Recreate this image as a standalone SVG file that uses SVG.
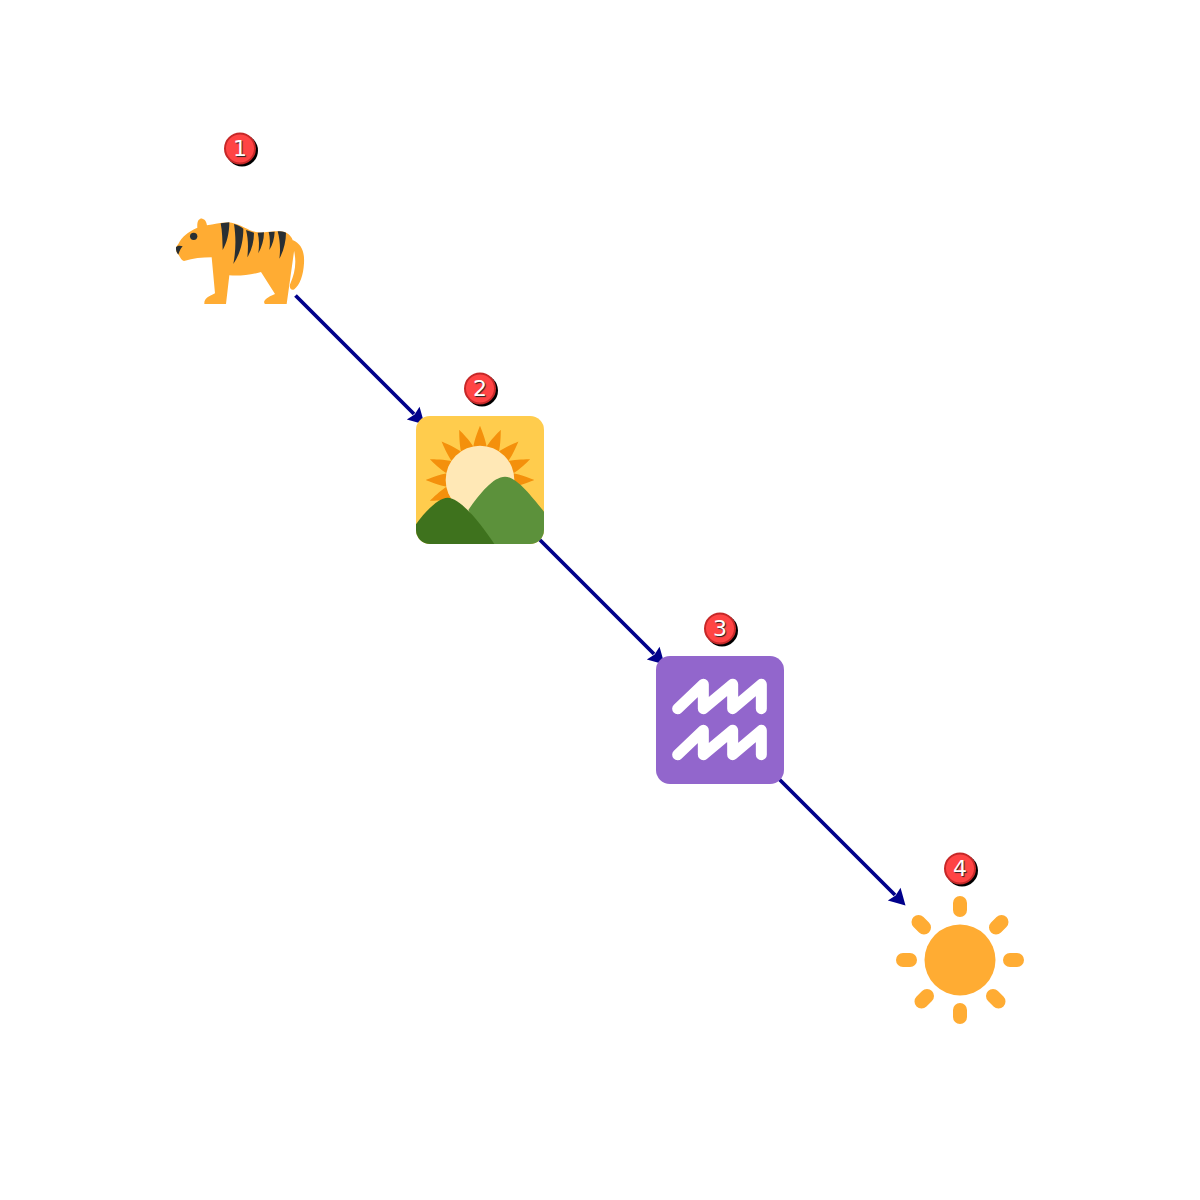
<svg xmlns="http://www.w3.org/2000/svg" xmlns:xlink="http://www.w3.org/1999/xlink" width="1200" height="1200" viewBox="0 0 1200 1200">
<style>
.shadow{fill:#000}
.badge{fill:#ff4444;stroke:#c62828;stroke-width:2}
.num{font-family:"DejaVu Sans",sans-serif;font-size:22px;fill:#fff;text-anchor:middle;text-shadow:1px 1px 1px #222}
.edge{fill:none;stroke:#00008b;stroke-width:3.800}
.tip{fill:#00008b}
.aq{fill:none;stroke:#fff;stroke-width:33;stroke-linecap:round;stroke-linejoin:round}
.stripe{fill:#292f33}
.ray{stroke:#ffac33;stroke-width:14;stroke-linecap:round;fill:none}
</style>
<defs>
<path id="arrow" class="tip" d="M0,0 Q-8,-4.500 -16,-9 L-14,0 L-16,9 Q-8,4.500 0,0 Z"/>
<path id="sunray" d="M-21,-95 C-16,-125 -5,-150 0,-163 C5,-150 16,-125 21,-95 Z" fill="#f4900c"/>
</defs>
<g id="connectors">
<line class="edge" x1="295.500" y1="295.500" x2="414" y2="414"/>
<use xlink:href="#arrow" transform="translate(424.500,424.500) rotate(45)"/>
<line class="edge" x1="535" y1="535" x2="654" y2="654"/>
<use xlink:href="#arrow" transform="translate(664.500,664.500) rotate(45)"/>
<line class="edge" x1="775" y1="775" x2="895" y2="895"/>
<use xlink:href="#arrow" transform="translate(905.500,905.500) rotate(45)"/>
</g>
<g id="node1">
<g transform="translate(160,120) scale(.33333)">
<path d="M398,360 C425,372 434,395 432,430 C430,465 420,495 403,508 C393,514 385,502 392,488 C404,462 412,425 400,385 Z" fill="#ffac33"/>
<path d="M112,323 C110,300 120,294 127,296 C137,299 140,308 141,316 C165,312 190,305 215,308 C250,315 270,338 305,338 C335,335 355,332 375,336 C395,345 405,365 402,395 L380,552 L315,552 C308,545 314,535 345,522 L303,456 C270,465 240,468 208,466 L198,552 L133,552 C132,535 145,530 165,520 L155,412 C125,412 100,415 72,423 C62,420 60,410 55,403 C45,395 46,380 55,372 C65,350 85,335 112,323 Z" fill="#ffac33"/>
<circle cx="101" cy="349" r="11" fill="#292f33"/>
<path d="M48,382 C50,377 60,376 68,379 C62,385 58,395 55,404 C50,398 47,390 48,382 Z" fill="#292f33"/>
<path class="stripe" d="M182,310 L208,307 C208,340 200,370 188,390 C187,360 187,335 182,310 Z"/>
<path class="stripe" d="M222,312 C235,315 245,322 250,326 C250,370 238,405 220,432 C228,390 228,350 222,312 Z"/>
<path class="stripe" d="M258,330 L282,338 C282,365 275,390 262,412 C265,385 265,355 258,330 Z"/>
<path class="stripe" d="M293,338 L312,337 C312,360 305,382 295,400 C298,380 298,358 293,338 Z"/>
<path class="stripe" d="M326,336 L344,335 C343,355 338,375 328,390 C331,372 330,352 326,336 Z"/>
<path class="stripe" d="M353,334 C362,334 372,335 378,338 C378,365 370,395 358,416 C362,390 360,360 353,334 Z"/>
</g>
<circle class="shadow" cx="242" cy="150.500" r="16"/>
<circle class="badge" cx="240" cy="148.500" r="15"/>
<text class="num" x="240" y="156">1</text>
</g>
<g id="node2">
<g transform="translate(400,365) scale(.33333)">
<clipPath id="c2"><rect x="48" y="153" width="384" height="384" rx="42"/></clipPath>
<g clip-path="url(#c2)">
<rect x="48" y="153" width="384" height="384" fill="#ffcc4d"/>
<g transform="translate(240,345)">
<use xlink:href="#sunray"/><use xlink:href="#sunray" transform="rotate(22.500)"/><use xlink:href="#sunray" transform="rotate(45)"/><use xlink:href="#sunray" transform="rotate(67.500)"/><use xlink:href="#sunray" transform="rotate(90)"/><use xlink:href="#sunray" transform="rotate(112.500)"/><use xlink:href="#sunray" transform="rotate(225)"/><use xlink:href="#sunray" transform="rotate(247.500)"/><use xlink:href="#sunray" transform="rotate(270)"/><use xlink:href="#sunray" transform="rotate(292.500)"/><use xlink:href="#sunray" transform="rotate(315)"/><use xlink:href="#sunray" transform="rotate(337.500)"/>
</g>
<circle cx="240" cy="345" r="103" fill="#ffe8b6"/>
<path d="M432,440 C395,395 350,335 315,335 C280,335 240,385 205,435 L260,537 L432,537 Z" fill="#5c913b"/>
<path d="M48,478 C75,440 115,398 143,398 C180,400 235,465 283,537 L48,537 Z" fill="#3e721d"/>
</g>
</g>
<circle class="shadow" cx="482" cy="390.500" r="16"/>
<circle class="badge" cx="480" cy="388.500" r="15"/>
<text class="num" x="480" y="396">2</text>
</g>
<g id="node3">
<g transform="translate(640,605) scale(.33333)">
<rect x="48" y="153" width="384" height="384" rx="42" fill="#9266cc"/>
<path class="aq" d="M113,311 L190,238 L190,311 L278,238 L278,311 L364,238 L364,311"/>
<path class="aq" d="M113,449 L190,376 L190,449 L278,376 L278,449 L364,376 L364,449"/>
</g>
<circle class="shadow" cx="722" cy="630.500" r="16"/>
<circle class="badge" cx="720" cy="628.500" r="15"/>
<text class="num" x="720" y="636">3</text>
</g>
<g id="node4">
<circle cx="960" cy="960" r="35.500" fill="#ffac33"/>
<path class="ray" d="M960,903 V910 M960,1010 V1017 M903,960 H910 M1010,960 H1017 M918.500,922 L924,927.500 M1001.500,922 L996,927.500 M921.500,1001.500 L927,996 M993,996 L998.500,1001.500"/>
<circle class="shadow" cx="962" cy="870.500" r="16"/>
<circle class="badge" cx="960" cy="868.500" r="15"/>
<text class="num" x="960" y="876">4</text>
</g>
</svg>
